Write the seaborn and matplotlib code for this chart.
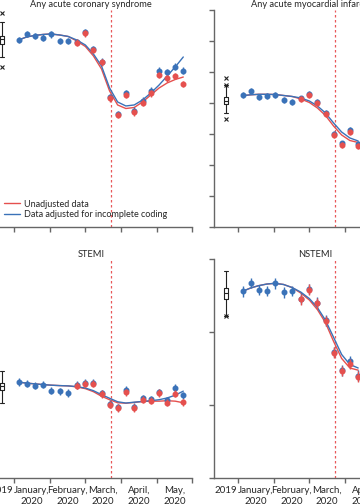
import pandas as pd
import matplotlib
matplotlib.use("Agg")
import matplotlib.pyplot as plt
import seaborn as sns

# weekly points (week ending Sunday), unadjusted series shown from week 8 on
weeks = pd.date_range("2020-01-05", periods=21, freq="7D")
red_start = 7
lockdown = pd.Timestamp("2020-03-23")

month_labels = ["January,\n2020", "February,\n2020", "March,\n2020", "April,\n2020", "May,\n2020"]
box_label = "2019"

# Any acute coronary syndrome
acs_adj = [3016, 3113, 3081, 3053, 3108, 3000, 3000, 2984, 3137, 2871, 2669,
           2097, 1823, 2161, 1876, 2037, 2198, 2521, 2495, 2585, 2521]
acs_unadj = [2973, 3124, 2855, 2656, 2076, 1806, 2129, 1847, 2005, 2156, 2452, 2398, 2435, 2306]
acs_fit_adj = [3016, 3065, 3089, 3105, 3113, 3097, 3073, 3016, 2935, 2790, 2597,
               2242, 2016, 1952, 1968, 2048, 2161, 2290, 2435, 2581, 2742]
acs_fit_unadj = [3016, 3065, 3089, 3105, 3113, 3097, 3073, 3000, 2911, 2758, 2548,
                 2194, 1968, 1911, 1927, 2016, 2129, 2242, 2323, 2379, 2419]
acs_box = [2742, 2952, 3024, 3081, 3307]
acs_out = [3452, 2581]

# Any acute myocardial infarction
ami_adj = [2129, 2194, 2092, 2113, 2134, 2048, 2021, 2073, 2145, 2011, 1834, 1502, 1348, 1565, 1339]
ami_unadj = [2060, 2129, 1995, 1818, 1484, 1328, 1537, 1311]
ami_fit_adj = [2118, 2132, 2140, 2140, 2137, 2121, 2105, 2081, 2032, 1952, 1839, 1678, 1532, 1436, 1387]
ami_fit_unadj = [2118, 2132, 2140, 2140, 2137, 2121, 2105, 2065, 2008, 1919, 1798, 1629, 1484, 1395, 1363]
ami_box = [1834, 1979, 2037, 2102, 2290]
ami_out = [2408, 1742, 2290]

# STEMI
stemi_adj = [658, 647, 633, 640, 598, 593, 582, 638, 650, 652, 580,
             506, 484, 602, 488, 546, 539, 588, 533, 617, 566]
stemi_unadj = [633, 645, 647, 575, 501, 479, 588, 479, 536, 529, 582, 515, 577, 517]
stemi_fit_adj = [657, 650, 645, 640, 636, 633, 631, 626, 616, 598, 571,
                 546, 522, 513, 519, 524, 529, 536, 548, 567, 595]
stemi_fit_unadj = [657, 650, 645, 640, 636, 633, 631, 624, 612, 591, 560,
                   536, 515, 512, 517, 524, 526, 526, 529, 526, 515]
stemi_box = [513, 605, 628, 651, 732]
stemi_out = []

# NSTEMI
nstemi_adj = [1281, 1338, 1290, 1285, 1336, 1273, 1285, 1231, 1297, 1203, 1082, 864, 737, 799, 702]
nstemi_unadj = [1226, 1292, 1198, 1078, 859, 732, 783, 695]
nstemi_fit_adj = [1281, 1304, 1320, 1331, 1336, 1328, 1307, 1276, 1231, 1169, 1082, 965, 847, 778, 754]
nstemi_fit_unadj = [1281, 1304, 1320, 1331, 1336, 1328, 1307, 1269, 1221, 1155, 1065, 937, 820, 754, 739]
nstemi_box = [1112, 1228, 1267, 1302, 1421]
nstemi_out = [1527, 1112]

RED = "#e5504e"
BLUE = "#3a72b8"
AXC = "#666666"


def month_pos(d):
    # each month gets the same width on the axis
    return (d.month - 1) + (d.day - 1) / d.days_in_month


def panel(ax, title, adj, unadj, fit_adj, fit_unadj, box, out, ymax, err, xlabels=True):
    x = [month_pos(d) for d in weeks[:len(adj)]]
    xr = x[red_start:]
    ax.axvline(month_pos(lockdown), color="#e8585a", ls=(0, (2, 2)), lw=0.9, zorder=1)
    sns.lineplot(x=x, y=fit_unadj, ax=ax, color=RED, lw=1.0, label="Unadjusted data", zorder=2)
    sns.lineplot(x=x, y=fit_adj, ax=ax, color=BLUE, lw=1.0,
                 label="Data adjusted for incomplete coding", zorder=3)
    ax.errorbar(x, adj, yerr=err, fmt="o", color=BLUE, ms=3.3, elinewidth=1.0, capsize=0, zorder=4)
    ax.errorbar(xr, unadj, yerr=err, fmt="o", color=RED, ms=3.3, elinewidth=1.0, capsize=0, zorder=5)
    stats = [dict(whislo=box[0], q1=box[1], med=box[2], q3=box[3], whishi=box[4], fliers=out)]
    ax.bxp(stats, positions=[-0.33], widths=0.11, capwidths=0.1, manage_ticks=False,
           boxprops=dict(color="#222222", lw=0.8), whiskerprops=dict(color="#222222", lw=0.8),
           capprops=dict(color="#222222", lw=0.8), medianprops=dict(color="#222222", lw=0.8),
           flierprops=dict(marker="x", ms=3, mec="#222222", mew=0.8))
    if ax.get_legend():
        ax.get_legend().remove()
    ax.set_xlim(-0.672, 5.0)
    ax.set_ylim(0, ymax)
    ax.set_yticks(range(0, ymax + 1, 500))
    ax.set_xticks(range(0, 6))
    ax.set_xticklabels([], minor=False)
    if xlabels:
        ax.set_xticks([-0.33, 0.5, 1.5, 2.5, 3.5, 4.5], minor=True)
        ax.set_xticklabels([box_label] + month_labels, minor=True, fontsize=7, linespacing=1.3)
    ax.tick_params(axis="both", which="major", length=3.5, width=1.0, color=AXC, labelleft=False)
    ax.tick_params(axis="x", which="minor", length=0, pad=6)
    sns.despine(ax=ax)
    for s in ["left", "bottom"]:
        ax.spines[s].set_color(AXC)
        ax.spines[s].set_linewidth(1.0)
    ax.set_title(title, fontsize=6.7, pad=2)


sns.set_theme(style="ticks")
plt.rcParams["font.family"] = ["Lato", "DejaVu Sans"]

fig = plt.figure(figsize=(3.6, 5.04), dpi=100)
ax1 = fig.add_axes([-0.0278, 0.5496, 0.5625, 0.4306])
ax2 = fig.add_axes([0.5944, 0.5496, 0.5625, 0.4306])
ax3 = fig.add_axes([-0.0278, 0.0522, 0.5625, 0.433])
ax4 = fig.add_axes([0.5944, 0.0522, 0.5625, 0.433])

panel(ax1, "Any acute coronary syndrome", acs_adj, acs_unadj, acs_fit_adj, acs_fit_unadj,
      acs_box, acs_out, 3500, 55, xlabels=False)
panel(ax2, "Any acute myocardial infarction", ami_adj, ami_unadj, ami_fit_adj, ami_fit_unadj,
      ami_box, ami_out, 3500, 46, xlabels=False)
panel(ax3, "STEMI", stemi_adj, stemi_unadj, stemi_fit_adj, stemi_fit_unadj,
      stemi_box, stemi_out, 1500, 25)
panel(ax4, "NSTEMI", nstemi_adj, nstemi_unadj, nstemi_fit_adj, nstemi_fit_unadj,
      nstemi_box, nstemi_out, 1500, 36)

h, l = ax1.get_legend_handles_labels()
ax1.legend(h[:2], l[:2], loc="lower left", bbox_to_anchor=(0.069, 0.035), frameon=False,
           fontsize=6.5, handlelength=1.8, handletextpad=0.4, labelspacing=0.2,
           borderpad=0, borderaxespad=0)

fig.savefig("out.png", dpi=100)
